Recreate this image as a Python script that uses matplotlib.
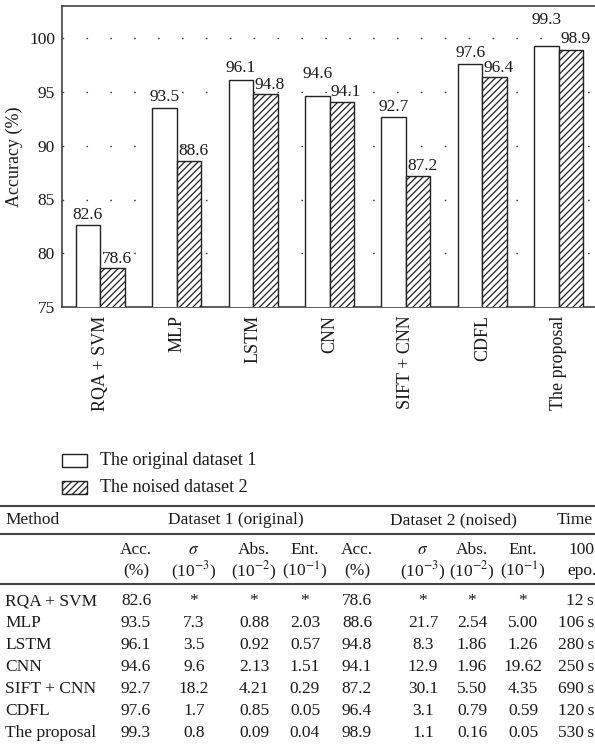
import matplotlib
matplotlib.use("Agg")
import matplotlib.pyplot as plt
from matplotlib.patches import Rectangle
from matplotlib.lines import Line2D
import numpy as np

plt.rcParams['font.family'] = ['Liberation Serif', 'DejaVu Serif']
plt.rcParams['mathtext.fontset'] = 'stix'
plt.rcParams['hatch.linewidth'] = 0.9

# ---------------- data ----------------
methods = ["RQA + SVM", "MLP", "LSTM", "CNN", "SIFT + CNN", "CDFL", "The proposal"]
acc_original = [82.6, 93.5, 96.1, 94.6, 92.7, 97.6, 99.3]
acc_noised = [78.6, 88.6, 94.8, 94.1, 87.2, 96.4, 98.9]
series_names = ["The original dataset 1", "The noised dataset 2"]
y_ticks = [75, 80, 85, 90, 95, 100]

sigma1 = ["*", "7.3", "3.5", "9.6", "18.2", "1.7", "0.8"]
abs1 = ["*", "0.88", "0.92", "2.13", "4.21", "0.85", "0.09"]
ent1 = ["*", "2.03", "0.57", "1.51", "0.29", "0.05", "0.04"]
sigma2 = ["*", "21.7", "8.3", "12.9", "30.1", "3.1", "1.1"]
abs2 = ["*", "2.54", "1.86", "1.96", "5.50", "0.79", "0.16"]
ent2 = ["*", "5.00", "1.26", "19.62", "4.35", "0.59", "0.05"]
time_100epo = ["12 s", "106 s", "280 s", "250 s", "690 s", "120 s", "530 s"]

# ---------------- figure ----------------
W, H = 595, 752
fig = plt.figure(figsize=(W / 100, H / 100), dpi=100)

def fx(x):
    return x / W

def fy(y):
    return 1 - y / H

tc = "#1a1a1a"
dark = "#222222"

ax_l, ax_r, ax_t, ax_b = 62, 597, 6, 307
ax = fig.add_axes([fx(ax_l), fy(ax_b), (ax_r - ax_l) / W, (ax_b - ax_t) / H])

x = np.arange(len(methods))
bw = 0.32
b1 = ax.bar(x - bw / 2, acc_original, bw, color="white",
            edgecolor=dark, linewidth=1.0, zorder=3)
b2 = ax.bar(x + bw / 2, acc_noised, bw, color="white", edgecolor=dark,
            hatch="/////", linewidth=1.0, zorder=3)

ax.set_ylim(75, 103)
ax.set_xlim(-0.5, len(methods) - 0.5)
ax.set_yticks(y_ticks)
ax.set_yticklabels([str(t) for t in y_ticks], fontsize=12.5, color=tc)
ax.set_xticks(x)
ax.set_xticklabels(methods, rotation=90, fontsize=13, color=tc,
                   va="top", ha="center")
ax.tick_params(axis="both", length=0)
ax.tick_params(axis="y", pad=5)
ax.tick_params(axis="x", pad=6)
ax.set_ylabel("Accuracy (%)", fontsize=13, color=tc, labelpad=4)

for yv in y_ticks[1:]:
    ax.axhline(yv, color="#444444", linewidth=1.0, linestyle=(0, (1.2, 16)), zorder=1)

for s in ["left", "top", "bottom"]:
    ax.spines[s].set_color("#333333")
    ax.spines[s].set_linewidth(1.1)
ax.spines["right"].set_visible(False)

# extra vertical lift (points) for labels that would collide with neighbours
lift_original = [2, 2, 3, 10, 1, 2, 13]
lift_noised = [1, 1, 1, 1, 1, 1, 2]
for rect, v, lf in zip(b1, acc_original, lift_original):
    ax.annotate(f"{v}", (rect.get_x() + rect.get_width() / 2, v),
                xytext=(0, lf), textcoords="offset points", ha="center",
                va="bottom", fontsize=12.5, color=tc, zorder=4)
for rect, v, lf in zip(b2, acc_noised, lift_noised):
    ax.annotate(f"{v}", (rect.get_x() + rect.get_width() / 2, v),
                xytext=(3, lf), textcoords="offset points", ha="center",
                va="bottom", fontsize=12.5, color=tc, zorder=4)

# ---------------- legend ----------------
leg_items = [(454, None), (481, "/////")]
for (ytop, hatch), name in zip(leg_items, series_names):
    r = Rectangle((fx(62), fy(ytop + 13)), 25 / W, 13 / H, transform=fig.transFigure,
                  facecolor="white", edgecolor=dark, linewidth=1.0, hatch=hatch)
    fig.add_artist(r)
    fig.text(fx(100), fy(ytop + 6.5), name, fontsize=13, va="center", ha="left",
             color=tc)

# ---------------- table ----------------
for yl in [506, 534, 584]:
    fig.add_artist(Line2D([0, 1], [fy(yl), fy(yl)], transform=fig.transFigure,
                          color="#444444", linewidth=1.5))

fs = 12.5
fig.text(fx(5), fy(520), "Method", fontsize=fs, va="center", ha="left", color=tc)
fig.text(fx(236), fy(520), "Dataset 1 (original)", fontsize=fs, va="center", ha="center", color=tc)
fig.text(fx(453), fy(520), "Dataset 2 (noised)", fontsize=fs, va="center", ha="center", color=tc)
fig.text(fx(557), fy(520), "Time", fontsize=fs, va="center", ha="left", color=tc)

col_x = [136, 194, 254, 305, 357, 423, 472, 523]
head1 = ["Acc.", r"$\sigma$", "Abs.", "Ent.", "Acc.", r"$\sigma$", "Abs.", "Ent."]
head2 = ["(%)", r"(10$^{-3}$)", r"(10$^{-2}$)", r"(10$^{-1}$)",
         "(%)", r"(10$^{-3}$)", r"(10$^{-2}$)", r"(10$^{-1}$)"]
for cx, h1, h2 in zip(col_x, head1, head2):
    fig.text(fx(cx), fy(550), h1, fontsize=fs, va="center", ha="center", color=tc)
    fig.text(fx(cx), fy(571), h2, fontsize=fs, va="center", ha="center", color=tc)
fig.text(fx(568), fy(550), "100", fontsize=fs, va="center", ha="left", color=tc)
fig.text(fx(567), fy(571), "epo.", fontsize=fs, va="center", ha="left", color=tc)

columns = [[f"{v}" for v in acc_original], sigma1, abs1, ent1,
           [f"{v}" for v in acc_noised], sigma2, abs2, ent2]
row_y = [601 + 22 * i for i in range(len(methods))]
for i, m in enumerate(methods):
    fig.text(fx(5), fy(row_y[i]), m, fontsize=fs, va="center", ha="left", color=tc)
    for cx, col in zip(col_x, columns):
        fig.text(fx(cx), fy(row_y[i]), col[i], fontsize=fs, va="center", ha="center", color=tc)
    fig.text(fx(594), fy(row_y[i]), time_100epo[i].replace(" ", "\u2009"), fontsize=fs,
             va="center", ha="right", color=tc)

fig.savefig("out.png", dpi=100)
